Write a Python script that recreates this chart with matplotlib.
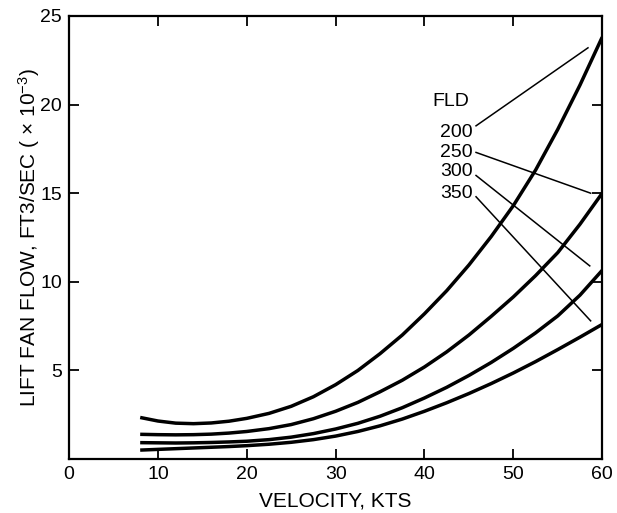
import matplotlib
matplotlib.use('Agg')
import matplotlib.pyplot as plt

plt.rcParams['font.family'] = ['Liberation Sans', 'DejaVu Sans']
plt.rcParams['mathtext.fontset'] = 'custom'
plt.rcParams['mathtext.rm'] = 'Liberation Sans'
plt.rcParams['mathtext.it'] = 'Liberation Sans:italic'

# velocity, kts
vel = [8, 10, 12, 14, 16, 18, 20, 22.5, 25, 27.5, 30, 32.5, 35, 37.5,
       40, 42.5, 45, 47.5, 50, 52.5, 55, 57.5, 60]

# lift fan flow (x 10^-3 ft3/sec) for each FLD
fld_200 = [2.35, 2.15, 2.03, 2.0, 2.04, 2.14, 2.3, 2.58, 2.98, 3.52, 4.2, 5.0,
           5.95, 7.0, 8.2, 9.5, 10.95, 12.55, 14.3, 16.3, 18.6, 21.1, 23.8]
fld_250 = [1.4, 1.38, 1.37, 1.38, 1.41, 1.47, 1.56, 1.72, 1.95, 2.28, 2.7, 3.2,
           3.8, 4.45, 5.2, 6.05, 7.0, 8.05, 9.15, 10.35, 11.65, 13.25, 15.0]
fld_300 = [0.93, 0.92, 0.91, 0.92, 0.94, 0.97, 1.01, 1.1, 1.24, 1.44, 1.7, 2.02,
           2.42, 2.9, 3.45, 4.05, 4.72, 5.45, 6.25, 7.12, 8.08, 9.25, 10.65]
fld_350 = [0.51, 0.55, 0.59, 0.63, 0.67, 0.71, 0.76, 0.84, 0.95, 1.1, 1.3, 1.56,
           1.88, 2.26, 2.7, 3.18, 3.7, 4.26, 4.86, 5.5, 6.18, 6.88, 7.6]

labels = ['200', '250', '300', '350']
label_y = [18.4, 17.3, 16.2, 15.0]
# leader line ends (start near label, end near curve)
lead_start = [(45.8, 18.8), (45.8, 17.3), (45.8, 16.0), (45.8, 14.8)]
lead_end = [(58.4, 23.2), (58.7, 15.0), (58.6, 10.9), (58.7, 7.8)]

fig = plt.figure(figsize=(6.17, 5.13), dpi=100)
ax = fig.add_axes([0.112, 0.105, 0.864, 0.864])

for ys in [fld_200, fld_250, fld_300, fld_350]:
    ax.plot(vel, ys, color='black', lw=2.5, solid_capstyle='butt')

for (x0, y0), (x1, y1) in zip(lead_start, lead_end):
    ax.plot([x0, x1], [y0, y1], color='black', lw=1.1)

ax.text(40.9, 20.2, 'FLD', fontsize=14, ha='left', va='center')
for lab, ly in zip(labels, label_y):
    ax.text(45.4, ly, lab, fontsize=14, ha='right', va='center')

ax.set_xlim(0, 60)
ax.set_ylim(0, 25)
ax.set_xticks([0, 10, 20, 30, 40, 50, 60])
ax.set_yticks([5, 10, 15, 20, 25])
ax.tick_params(direction='in', length=7, width=1.3, labelsize=14, pad=5,
               top=True, right=True)
for s in ax.spines.values():
    s.set_linewidth(1.6)

ax.set_xlabel('VELOCITY, KTS', fontsize=15, labelpad=6)
ax.set_ylabel('LIFT FAN FLOW, FT3/SEC ( $\\times$ 10$^{-3}$)', fontsize=15, labelpad=-1)

fig.savefig('out.png', dpi=100)
